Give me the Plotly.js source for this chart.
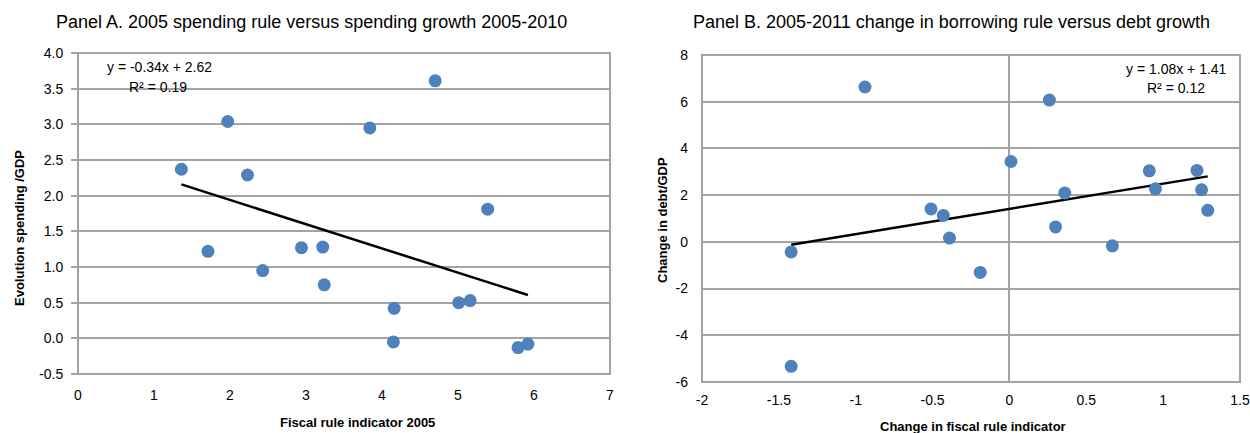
<!DOCTYPE html>
<html>
<head>
<meta charset="utf-8">
<script src="https://cdn.plot.ly/plotly-3.0.1.min.js"></script>
<style>
  html, body { margin: 0; padding: 0; background: #ffffff; }
  #chart { width: 1250px; height: 433px; }
</style>
</head>
<body>
<div id="chart"></div>
<script>
// Panel A: 2005 spending rule indicator vs change in spending/GDP 2005-2010
const spendRule2005 = [1.36, 1.71, 1.97, 2.23, 2.43, 2.94, 3.22, 3.24, 3.84, 4.15, 4.16, 4.70, 5.01, 5.16, 5.39, 5.79, 5.92];
const spendGrowth   = [2.37, 1.22, 3.04, 2.29, 0.95, 1.27, 1.28, 0.75, 2.95, -0.05, 0.42, 3.61, 0.50, 0.53, 1.81, -0.13, -0.08];
const trendA = { slope: -0.34, intercept: 2.62, r2: 0.19 };

// Panel B: 2005-2011 change in borrowing rule indicator vs change in debt/GDP
const borrowRuleChange = [-1.42, -1.42, -0.94, -0.51, -0.43, -0.39, -0.19, 0.01, 0.26, 0.30, 0.36, 0.67, 0.91, 0.95, 1.22, 1.25, 1.29];
const debtChange       = [-0.43, -5.33, 6.63, 1.41, 1.13, 0.16, -1.31, 3.44, 6.07, 0.64, 2.09, -0.17, 3.04, 2.27, 3.06, 2.23, 1.35];
const trendB = { slope: 1.08, intercept: 1.41, r2: 0.12 };

// Tick values and labels
const aXTicks = [0, 1, 2, 3, 4, 5, 6, 7];
const aXLabels = ['0', '1', '2', '3', '4', '5', '6', '7'];
const aYTicks = [-0.5, 0, 0.5, 1, 1.5, 2, 2.5, 3, 3.5, 4];
const aYLabels = ['-0.5', '0.0', '0.5', '1.0', '1.5', '2.0', '2.5', '3.0', '3.5', '4.0'];
const bXTicks = [-2, -1.5, -1, -0.5, 0, 0.5, 1, 1.5];
const bXLabels = ['-2', '-1.5', '-1', '-0.5', '0', '0.5', '1', '1.5'];
const bYTicks = [-6, -4, -2, 0, 2, 4, 6, 8];
const bYLabels = ['-6', '-4', '-2', '0', '2', '4', '6', '8'];

const W = 1250, H = 433;
const SANS = '"Liberation Sans", Arial, sans-serif';
const GRID = '#a3a3a3';
const BLUE = '#4f81bd';

// plot boxes in pixels
const boxA = { x0: 78, x1: 610, y0: 53, y1: 374, xr: [0, 7], yr: [-0.5, 4] };
const boxB = { x0: 702, x1: 1240, y0: 55, y1: 382, xr: [-2, 1.5], yr: [-6, 8] };

function domX(b) { return [b.x0 / W, b.x1 / W]; }
function domY(b) { return [(H - b.y1) / H, (H - b.y0) / H]; }
// paper fraction of the y=0 line inside a box
function zeroPos(b) {
  const d = domY(b);
  return d[0] + (0 - b.yr[0]) / (b.yr[1] - b.yr[0]) * (d[1] - d[0]);
}
function px(x) { return x / W; }
function py(y) { return (H - y) / H; }

function trendTrace(xs, t, xa, ya) {
  const lo = Math.min(...xs), hi = Math.max(...xs);
  return {
    x: [lo, hi], y: [t.slope * lo + t.intercept, t.slope * hi + t.intercept],
    xaxis: xa, yaxis: ya, mode: 'lines', type: 'scatter',
    line: { color: '#000000', width: 2.5 }, hoverinfo: 'skip'
  };
}

const marker = { color: BLUE, size: 13, line: { width: 0 } };

const data = [
  trendTrace(spendRule2005, trendA, 'x', 'y'),
  { x: spendRule2005, y: spendGrowth, xaxis: 'x', yaxis: 'y', mode: 'markers', type: 'scatter', marker: marker },
  trendTrace(borrowRuleChange, trendB, 'x2', 'y2'),
  { x: borrowRuleChange, y: debtChange, xaxis: 'x2', yaxis: 'y2', mode: 'markers', type: 'scatter', marker: marker }
];

const tickFont = { family: SANS, size: 14, color: '#000000' };
const eqFont = { family: SANS, size: 14, color: '#000000' };
const axisTitleFont = { family: SANS, size: 13, color: '#000000', weight: 'bold' };
const panelTitleFont = { family: SANS, size: 18, color: '#000000' };

function label(text, x, y, font, extra) {
  return Object.assign({
    text: text, xref: 'paper', yref: 'paper', x: px(x), y: py(y), showarrow: false,
    xanchor: 'center', yanchor: 'middle', font: font
  }, extra || {});
}

const layout = {
  width: W, height: H,
  margin: { l: 0, r: 0, t: 0, b: 0 },
  paper_bgcolor: '#ffffff', plot_bgcolor: '#ffffff',
  showlegend: false,
  xaxis: {
    domain: domX(boxA), range: boxA.xr, anchor: 'y',
    tickmode: 'array', tickvals: aXTicks, ticktext: aXLabels,
    showgrid: false, zeroline: false, showline: false, ticks: '',
    tickfont: tickFont, ticklabelstandoff: 11
  },
  yaxis: {
    domain: domY(boxA), range: boxA.yr, anchor: 'x',
    tickmode: 'array', tickvals: aYTicks, ticktext: aYLabels,
    showgrid: true, gridcolor: GRID, gridwidth: 2, zeroline: false,
    showline: false, ticks: 'outside', ticklen: 6, tickwidth: 2, tickcolor: GRID,
    tickfont: tickFont, ticklabelstandoff: 5
  },
  // horizontal axis line through y=0 carrying the tick marks
  xaxis3: {
    overlaying: 'x', anchor: 'free', position: zeroPos(boxA), range: boxA.xr,
    tickmode: 'array', tickvals: aXTicks, showticklabels: false,
    showgrid: false, zeroline: false, showline: true, linecolor: GRID, linewidth: 2,
    ticks: 'outside', ticklen: 5, tickwidth: 2, tickcolor: GRID
  },
  xaxis2: {
    domain: domX(boxB), range: boxB.xr, anchor: 'y2',
    tickmode: 'array', tickvals: bXTicks, ticktext: bXLabels,
    showgrid: false, zeroline: true, zerolinecolor: GRID, zerolinewidth: 2,
    showline: false, ticks: '', tickfont: tickFont, ticklabelstandoff: 8
  },
  yaxis2: {
    domain: domY(boxB), range: boxB.yr, anchor: 'x2',
    tickmode: 'array', tickvals: bYTicks, ticktext: bYLabels,
    showgrid: true, gridcolor: GRID, gridwidth: 2, zeroline: false,
    showline: false, ticks: '', tickfont: tickFont, ticklabelstandoff: 13
  },
  xaxis4: {
    overlaying: 'x2', anchor: 'free', position: zeroPos(boxB), range: boxB.xr,
    tickmode: 'array', tickvals: bXTicks, showticklabels: false,
    showgrid: false, zeroline: false, showline: true, linecolor: GRID, linewidth: 2,
    ticks: 'outside', ticklen: 5, tickwidth: 2, tickcolor: GRID
  },
  shapes: [
    { type: 'rect', xref: 'x domain', yref: 'y domain', x0: 0, x1: 1, y0: 0, y1: 1,
      line: { color: GRID, width: 2 }, layer: 'below' },
    { type: 'rect', xref: 'x2 domain', yref: 'y2 domain', x0: 0, x1: 1, y0: 0, y1: 1,
      line: { color: GRID, width: 2 }, layer: 'below' }
  ],
  annotations: [
    label('Panel A. 2005 spending rule versus spending growth 2005-2010', 311, 22, panelTitleFont),
    label('Panel B. 2005-2011 change in borrowing rule versus debt growth', 951, 22, panelTitleFont),
    label('Fiscal rule indicator 2005', 357, 422, axisTitleFont),
    label('Evolution spending /GDP', 19, 228, axisTitleFont, { textangle: -90 }),
    label('Change in fiscal rule indicator', 973, 426, axisTitleFont),
    label('Change in debt/GDP', 663, 220, axisTitleFont, { textangle: -90 }),
    label('y = ' + trendA.slope.toFixed(2) + 'x + ' + trendA.intercept.toFixed(2), 159, 67, eqFont),
    label('R² = ' + trendA.r2.toFixed(2), 158, 87, eqFont),
    label('y = ' + trendB.slope.toFixed(2) + 'x + ' + trendB.intercept.toFixed(2), 1176, 69, eqFont),
    label('R² = ' + trendB.r2.toFixed(2), 1176, 88, eqFont)
  ]
};

Plotly.newPlot('chart', data, layout, { staticPlot: true, displayModeBar: false });
</script>
</body>
</html>
